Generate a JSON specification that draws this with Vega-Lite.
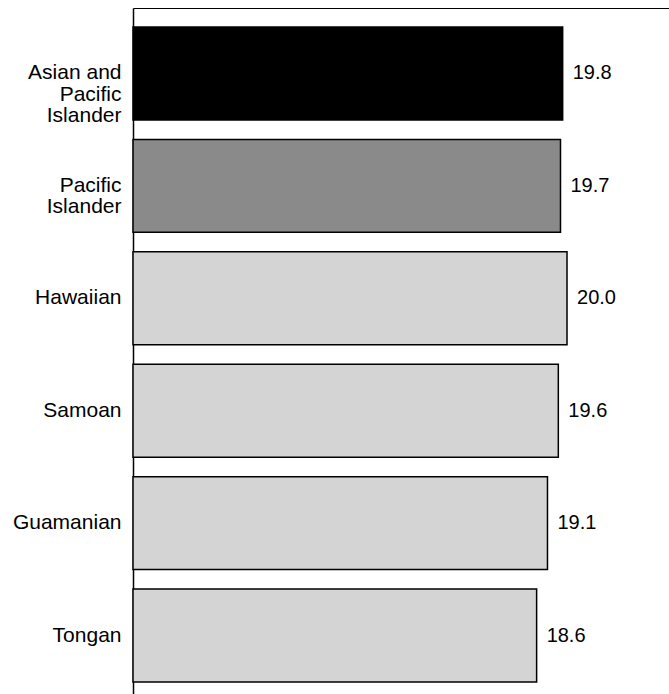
{
  "$schema": "https://vega.github.io/schema/vega-lite/v6.json",
  "width": 536,
  "height": 693,
  "autosize": {"type": "none"},
  "padding": {"left": 133, "top": 8, "right": 0, "bottom": 0},
  "background": "white",
  "config": {"view": {"stroke": null}, "font": "Liberation Sans"},
  "data": {
    "values": [
      {"group": "Asian and Pacific Islander", "value": 19.8, "tier": "total"},
      {"group": "Pacific Islander", "value": 19.7, "tier": "subtotal"},
      {"group": "Hawaiian", "value": 20.0, "tier": "detail"},
      {"group": "Samoan", "value": 19.6, "tier": "detail"},
      {"group": "Guamanian", "value": 19.1, "tier": "detail"},
      {"group": "Tongan", "value": 18.6, "tier": "detail"}
    ]
  },
  "encoding": {
    "y": {
      "field": "group",
      "type": "nominal",
      "sort": null,
      "scale": {"paddingInner": 0.173, "paddingOuter": 0.169},
      "axis": {
        "title": null,
        "ticks": false,
        "domainColor": "black",
        "domainWidth": 1.5,
        "labelFontSize": 21,
        "labelFontWeight": "normal",
        "labelColor": "black",
        "labelPadding": 12,
        "labelLineHeight": 21.5,
        "labelLimit": 200,
        "labelExpr": "datum.value == 'Asian and Pacific Islander' ? ['Asian and', 'Pacific', 'Islander'] : datum.value == 'Pacific Islander' ? ['Pacific', 'Islander'] : datum.value"
      }
    }
  },
  "layer": [
    {
      "mark": {"type": "bar", "stroke": "black", "strokeWidth": 1.5},
      "encoding": {
        "x": {
          "field": "value",
          "type": "quantitative",
          "scale": {"domain": [0, 24.7], "nice": false},
          "axis": {
            "orient": "top",
            "title": null,
            "labels": false,
            "ticks": false,
            "grid": false,
            "domainColor": "black",
            "domainWidth": 1.2
          }
        },
        "fill": {
          "field": "tier",
          "type": "nominal",
          "scale": {"domain": ["total", "subtotal", "detail"], "range": ["#000000", "#8a8a8a", "#d4d4d4"]},
          "legend": null
        }
      }
    },
    {
      "mark": {"type": "text", "align": "left", "baseline": "middle", "dx": 10, "fontSize": 20, "color": "black"},
      "encoding": {
        "x": {"field": "value", "type": "quantitative"},
        "text": {"field": "value", "type": "quantitative", "format": ".1f"}
      }
    }
  ]
}
